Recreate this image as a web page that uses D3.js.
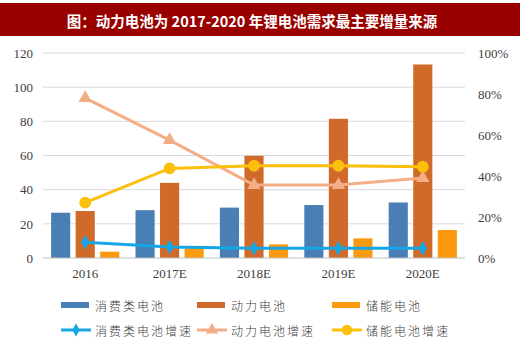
<!DOCTYPE html>
<html>
<head>
<meta charset="utf-8">
<script src="https://cdn.jsdelivr.net/npm/d3@7"></script>
<style>
  html, body { margin: 0; padding: 0; background: #fff; }
  svg { display: block; }
</style>
</head>
<body>
<div id="chart"></div>
<script>
// Data
const categories = ["2016", "2017E", "2018E", "2019E", "2020E"];
const consumerBattery = [26.5, 28, 29.5, 31, 32.5];
const powerBattery = [27.5, 44, 59.8, 81.5, 113.3];
const storageBattery = [3.7, 5.7, 8, 11.5, 16.4];
const consumerGrowth = [0.077, 0.054, 0.047, 0.047, 0.047];
const powerGrowth = [0.78, 0.575, 0.356, 0.356, 0.39];
const storageGrowth = [0.27, 0.437, 0.45, 0.45, 0.445];
const leftTicks = [0, 20, 40, 60, 80, 100, 120];
const rightTicks = [0, 0.2, 0.4, 0.6, 0.8, 1.0];
const title = "图：动力电池为 2017-2020 年锂电池需求最主要增量来源";

const width = 520, height = 344;
const margin = { top: 53, right: 55, bottom: 86, left: 43 };

const barSeries = [
  { name: "消费类电池", values: consumerBattery, color: "#4a7fb5" },
  { name: "动力电池", values: powerBattery, color: "#d06a2b" },
  { name: "储能电池", values: storageBattery, color: "#fb9a0e" }
];
const lineSeries = [
  { name: "消费类电池增速", values: consumerGrowth, color: "#16a6e6", symbol: d3.symbolDiamond, size: 60 },
  { name: "动力电池增速", values: powerGrowth, color: "#f4ae86", symbol: d3.symbolTriangle, size: 80 },
  { name: "储能电池增速", values: storageGrowth, color: "#fbbf0c", symbol: d3.symbolCircle, size: 110 }
];

const svg = d3.select("#chart").append("svg")
  .attr("width", width)
  .attr("height", height);

// Title bar
svg.append("rect")
  .attr("x", 0).attr("y", 3)
  .attr("width", width).attr("height", 33)
  .attr("fill", "#990000");
svg.append("text")
  .attr("x", 252).attr("y", 20)
  .attr("text-anchor", "middle")
  .attr("dominant-baseline", "central")
  .style("font-family", "'Noto Sans CJK SC', sans-serif")
  .style("font-size", "14.5px")
  .style("font-weight", "bold")
  .style("fill", "#fff")
  .text(title);

const innerW = width - margin.left - margin.right;

const x = d3.scaleBand().domain(categories).range([margin.left, margin.left + innerW]);
const xSub = d3.scaleBand().domain(barSeries.map(d => d.name))
  .range([0, x.bandwidth()]).paddingOuter(0.33).paddingInner(0.22);
const y = d3.scaleLinear().domain([0, 120]).range([258, margin.top]);
const y2 = d3.scaleLinear().domain([0, 1]).range([258, margin.top]);

// Gridlines
svg.append("g")
  .selectAll("line")
  .data(leftTicks.slice(1))
  .join("line")
  .attr("x1", margin.left).attr("x2", margin.left + innerW)
  .attr("y1", d => y(d)).attr("y2", d => y(d))
  .attr("stroke", "#d9d9d9").attr("stroke-width", 1);

const serif = "'Liberation Serif', 'DejaVu Serif', serif";

// Left axis
const leftAxis = svg.append("g")
  .attr("transform", `translate(${margin.left},0)`)
  .call(d3.axisLeft(y).tickValues(leftTicks).tickSize(0).tickPadding(10));
leftAxis.select(".domain").remove();
leftAxis.selectAll("text")
  .style("font-family", serif).style("font-size", "13px").style("fill", "#404040");

// Right axis
const rightAxis = svg.append("g")
  .attr("transform", `translate(${margin.left + innerW},0)`)
  .call(d3.axisRight(y2).tickValues(rightTicks).tickFormat(d3.format(".0%")).tickSize(0).tickPadding(13));
rightAxis.select(".domain").remove();
rightAxis.selectAll("text")
  .style("font-family", serif).style("font-size", "13px").style("fill", "#404040");

// Bars
barSeries.forEach(s => {
  svg.append("g")
    .selectAll("rect")
    .data(s.values)
    .join("rect")
    .attr("x", (d, i) => x(categories[i]) + xSub(s.name))
    .attr("y", d => y(d))
    .attr("width", xSub.bandwidth())
    .attr("height", d => y(0) - y(d))
    .attr("fill", s.color);
});

// Baseline
svg.append("line")
  .attr("x1", margin.left).attr("x2", margin.left + innerW)
  .attr("y1", y(0)).attr("y2", y(0))
  .attr("stroke", "#bfbfbf").attr("stroke-width", 1);

// Bottom axis labels
const bottomAxis = svg.append("g")
  .attr("transform", `translate(0,${y(0)})`)
  .call(d3.axisBottom(x).tickSize(0).tickPadding(11));
bottomAxis.select(".domain").remove();
bottomAxis.selectAll("text")
  .style("font-family", serif).style("font-size", "13px").style("fill", "#404040");

// Lines
const cx = c => x(c) + x.bandwidth() / 2;
lineSeries.forEach(s => {
  const line = d3.line()
    .x((d, i) => cx(categories[i]))
    .y(d => y2(d));
  svg.append("path")
    .datum(s.values)
    .attr("d", line)
    .attr("fill", "none")
    .attr("stroke", s.color)
    .attr("stroke-width", 3);
  svg.append("g")
    .selectAll("path")
    .data(s.values)
    .join("path")
    .attr("transform", (d, i) => `translate(${cx(categories[i])},${y2(d)})`)
    .attr("d", d3.symbol().type(s.symbol).size(s.size))
    .attr("fill", s.color);
});

// Legend
const legendFont = "'Noto Sans CJK SC', sans-serif";
const legendX = [61, 197, 332];
barSeries.forEach((s, i) => {
  const g = svg.append("g").attr("transform", `translate(${legendX[i]},305)`);
  g.append("rect").attr("x", 0).attr("y", -3).attr("width", 28).attr("height", 6).attr("fill", s.color);
  g.append("text").attr("x", 34).attr("y", 0)
    .attr("dominant-baseline", "central")
    .style("font-family", legendFont).style("font-size", "12px").style("font-weight", "300")
    .style("letter-spacing", "2px").style("fill", "#404040")
    .text(s.name);
});
lineSeries.forEach((s, i) => {
  const g = svg.append("g").attr("transform", `translate(${legendX[i]},330)`);
  g.append("line").attr("x1", 0).attr("x2", 30).attr("y1", 0).attr("y2", 0)
    .attr("stroke", s.color).attr("stroke-width", 3);
  g.append("path").attr("transform", "translate(15,0)")
    .attr("d", d3.symbol().type(s.symbol).size(s.size * 0.8))
    .attr("fill", s.color);
  g.append("text").attr("x", 34).attr("y", 0)
    .attr("dominant-baseline", "central")
    .style("font-family", legendFont).style("font-size", "12px").style("font-weight", "300")
    .style("letter-spacing", "2px").style("fill", "#404040")
    .text(s.name);
});
</script>
</body>
</html>
